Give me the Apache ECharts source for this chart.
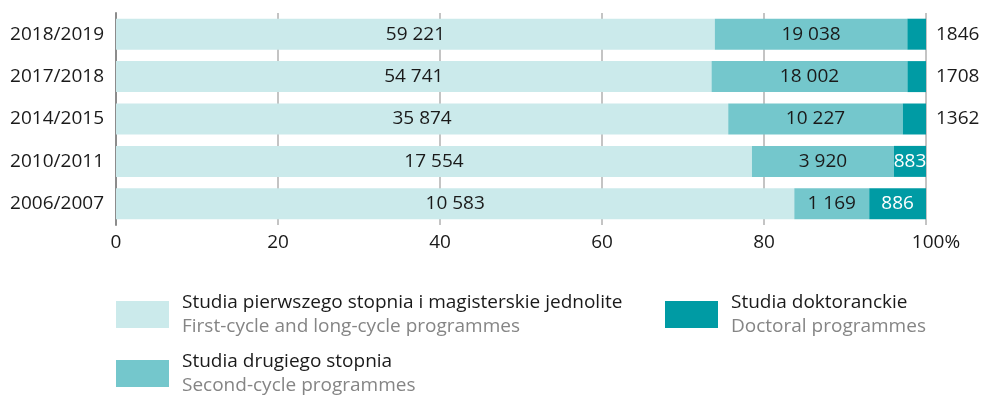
<!DOCTYPE html>
<html>
<head>
<meta charset="utf-8">
<script src="https://cdn.jsdelivr.net/npm/echarts@6/dist/echarts.min.js"></script>
<style>
  html, body { margin: 0; padding: 0; background: #ffffff; }
  #chart { width: 982px; height: 395px; }
</style>
</head>
<body>
<div id="chart"></div>
<script>
// Academic years, top to bottom
const years = ['2018/2019', '2017/2018', '2014/2015', '2010/2011', '2006/2007'];

// Number of students by programme type
const firstCycle = [59221, 54741, 35874, 17554, 10583];
const secondCycle = [19038, 18002, 10227, 3920, 1169];
const doctoral = [1846, 1708, 1362, 883, 886];

// Value-axis ticks (percent)
const xTicks = [0, 20, 40, 60, 80, 100];

// Legend texts: Polish name, English name
const seriesNamesPl = [
  'Studia pierwszego stopnia i magisterskie jednolite',
  'Studia drugiego stopnia',
  'Studia doktoranckie'
];
const seriesNamesEn = [
  'First-cycle and long-cycle programmes',
  'Second-cycle programmes',
  'Doctoral programmes'
];

const colors = ['#cbeaeb', '#74c7cc', '#009ba4'];
const FONT = '"Open Sans", sans-serif';
const FS = 19;
const INK = '#1a1a1a';

// Share of each programme type within a year, in percent
const totals = years.map((_, i) => firstCycle[i] + secondCycle[i] + doctoral[i]);
const share = arr => arr.map((v, i) => v / totals[i] * 100);

// Thousands grouped with a space: "59 221"
const grouped = v => String(v).replace(/\B(?=(\d{3})+(?!\d))/g, ' ');
const plain = v => String(v);

const rawBySeries = [firstCycle, secondCycle, doctoral];
const fmtBySeries = [grouped, grouped, plain];

function barSeries(idx) {
  const raw = rawBySeries[idx];
  const fmt = fmtBySeries[idx];
  const shares = share(raw);
  const data = shares.map((s) => {
    const item = { value: s };
    if (idx === 2) {
      // narrow doctoral segments get their label outside, wider ones inside in white
      const inside = s > 3.5;
      item.label = inside
        ? { position: 'inside', color: '#ffffff' }
        : { position: 'right', distance: 10, color: INK };
    }
    return item;
  });
  return {
    name: seriesNamesPl[idx],
    type: 'bar',
    stack: 'total',
    barWidth: 31,
    itemStyle: { color: colors[idx] },
    label: {
      show: true,
      position: 'inside',
      color: INK,
      fontFamily: FONT,
      fontSize: FS,
      formatter: p => fmt(raw[p.dataIndex])
    },
    emphasis: { disabled: true },
    data: data
  };
}

function legendAt(idx, left, top) {
  return {
    data: [seriesNamesPl[idx]],
    left: left,
    top: top,
    padding: 0,
    itemWidth: 53,
    itemHeight: 27,
    icon: 'rect',
    selectedMode: false,
    formatter: () => '{pl|' + seriesNamesPl[idx] + '}\n{en|' + seriesNamesEn[idx] + '}',
    textStyle: {
      padding: [0, 0, 0, 8],
      rich: {
        pl: { fontFamily: FONT, fontSize: FS, color: INK, lineHeight: 24 },
        en: { fontFamily: FONT, fontSize: FS, color: '#858585', lineHeight: 24 }
      }
    }
  };
}

const chart = echarts.init(document.getElementById('chart'), null, { renderer: 'canvas' });

chart.setOption({
  animation: false,
  backgroundColor: '#ffffff',
  grid: { left: 116, right: 56, top: 13, bottom: 170, containLabel: false },
  xAxis: {
    type: 'value',
    min: xTicks[0],
    max: xTicks[xTicks.length - 1],
    interval: xTicks[1] - xTicks[0],
    axisLine: { show: false },
    axisTick: { show: false },
    splitLine: { show: true, lineStyle: { color: '#b0b0b0', width: 1.5 } },
    axisLabel: {
      margin: 8,
      fontFamily: FONT,
      fontSize: FS,
      color: INK,
      formatter: v => v === 100 ? '{p|100%}' : String(v),
      rich: { p: { fontFamily: FONT, fontSize: FS, color: INK, padding: [0, 0, 0, 20] } }
    }
  },
  yAxis: {
    type: 'category',
    inverse: true,
    data: years,
    axisLine: { show: true, lineStyle: { color: '#8c8c8c', width: 2 } },
    axisTick: { show: false },
    axisLabel: { margin: 12, fontFamily: FONT, fontSize: FS, color: INK }
  },
  legend: [
    legendAt(0, 116, 293),
    legendAt(1, 116, 352),
    legendAt(2, 665, 293)
  ],
  series: [barSeries(0), barSeries(1), barSeries(2)]
});
</script>
</body>
</html>
